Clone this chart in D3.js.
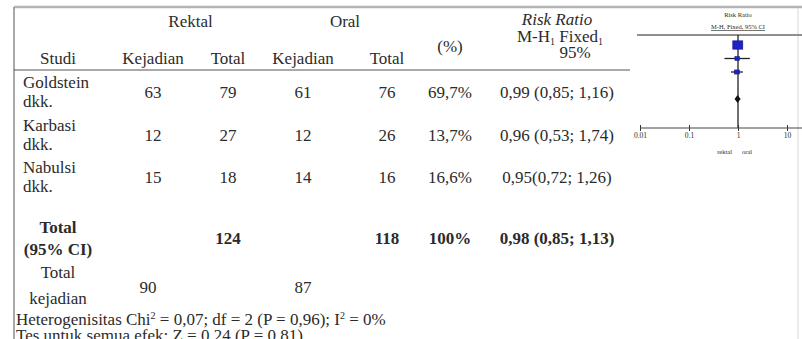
<!DOCTYPE html>
<html>
<head>
<meta charset="utf-8">
<script src="https://cdn.jsdelivr.net/npm/d3@7"></script>
<style>
  html, body { margin: 0; padding: 0; background: #fff; }
  svg { display: block; }
  text { font-family: "Liberation Serif", "DejaVu Serif", serif; fill: #2b2b2b; }
</style>
</head>
<body>
<svg id="chart" width="802" height="339"></svg>
<script>
// ---- data ----
const studyNames   = ["Goldstein", "Karbasi", "Nabulsi"];
const rektalEvents = [63, 12, 15];
const rektalTotal  = [79, 27, 18];
const oralEvents   = [61, 12, 14];
const oralTotal    = [76, 26, 16];
const weights      = [69.7, 13.7, 16.6];
const riskRatio    = [0.99, 0.96, 0.95];
const ciLower      = [0.85, 0.53, 0.72];
const ciUpper      = [1.16, 1.74, 1.26];
const labelGap     = [" ", " ", ""];
const pooled       = { rektalTotal: 124, oralTotal: 118, weight: 100, rr: 0.98, lo: 0.85, hi: 1.13 };
const totalEvents  = { rektal: 90, oral: 87 };
const heterogeneity = { chi2: 0.07, df: 2, p: 0.96, i2: 0 };
const overallTest  = { z: 0.24, p: 0.81 };
const axisTicks    = [0.01, 0.1, 1, 10];
const axisTickLabels = ["0.01", "0.1", "1", "10"];

// ---- helpers ----
const comma = (v, d) => d3.format("." + d + "f")(v).replace(".", ",");
const pct = v => (Number.isInteger(v) ? String(v) : comma(v, 1)) + "%";
const rrLabel = (r, lo, hi, gap) => `${comma(r, 2)}${gap}(${comma(lo, 2)}; ${comma(hi, 2)})`;

const svg = d3.select("#chart");
const FS = 17;

// column centres of the table
const col = { study: 58, rEv: 153, rTot: 228, oEv: 303, oTot: 387, pct: 450, rr: 557 };

function txt(x, y, s, opts = {}) {
  return svg.append("text")
    .attr("x", x).attr("y", y)
    .attr("text-anchor", opts.anchor || "middle")
    .style("font-size", (opts.size || FS) + "px")
    .style("font-weight", opts.bold ? "bold" : null)
    .style("font-style", opts.italic ? "italic" : null)
    .text(s);
}

// ---- frame ----
svg.append("line").attr("x1", 14).attr("x2", 802).attr("y1", 7).attr("y2", 7)
  .attr("stroke", "#b4b4b4").attr("stroke-width", 2.5);
svg.append("line").attr("x1", 14).attr("x2", 14).attr("y1", 7).attr("y2", 339)
  .attr("stroke", "#8c8c8c").attr("stroke-width", 1.5);
svg.append("line").attr("x1", 798).attr("x2", 798).attr("y1", 8).attr("y2", 339)
  .attr("stroke", "#e4e4e4").attr("stroke-width", 1.5);
svg.append("line").attr("x1", 14).attr("x2", 630).attr("y1", 70).attr("y2", 70)
  .attr("stroke", "#555").attr("stroke-width", 1.2);

// ---- header ----
txt((col.rEv + col.rTot) / 2, 27, "Rektal");
txt((col.oEv + col.oTot) / 2, 27, "Oral");
txt(col.rr, 25, "Risk Ratio", { italic: true });
const mh = txt(col.rr + 3, 42, "M-H");
mh.append("tspan").attr("dy", 3).style("font-size", "10px").text("1");
mh.append("tspan").attr("dy", -3).text(" Fixed");
mh.append("tspan").attr("dy", 3).style("font-size", "10px").text("1");
txt(col.rr + 18, 58, "95%");
txt(col.study, 64, "Studi");
txt(col.rEv, 64, "Kejadian");
txt(col.rTot, 64, "Total");
txt(col.oEv, 64, "Kejadian");
txt(col.oTot, 64, "Total");
txt(col.pct, 52, "(%)");

// ---- study rows ----
const rowTop = 88, rowStep = 42.5;
studyNames.forEach((name, i) => {
  const y = rowTop + i * rowStep;
  txt(23, y, name, { anchor: "start" });
  txt(23, y + 19, "dkk.", { anchor: "start" });
  const yv = y + 10;
  txt(col.rEv, yv, rektalEvents[i]);
  txt(col.rTot, yv, rektalTotal[i]);
  txt(col.oEv, yv, oralEvents[i]);
  txt(col.oTot, yv, oralTotal[i]);
  txt(col.pct, yv, pct(weights[i]));
  txt(col.rr, yv, rrLabel(riskRatio[i], ciLower[i], ciUpper[i], labelGap[i]));
});

// ---- pooled rows ----
txt(col.study, 233, "Total", { bold: true });
txt(col.study, 255, "(95% CI)", { bold: true });
txt(col.rTot, 244, pooled.rektalTotal, { bold: true });
txt(col.oTot, 244, pooled.oralTotal, { bold: true });
txt(col.pct, 244, pct(pooled.weight), { bold: true });
txt(col.rr, 244, rrLabel(pooled.rr, pooled.lo, pooled.hi, " "), { bold: true });

txt(col.study, 278, "Total");
txt(col.study, 304, "kejadian");
txt(col.rEv - 5, 293, totalEvents.rektal);
txt(col.oEv, 293, totalEvents.oral);

const het = txt(16, 325, "Heterogenisitas Chi", { anchor: "start" });
het.append("tspan").attr("dy", -6).style("font-size", "10px").text("2");
het.append("tspan").attr("dy", 6)
  .text(` = ${comma(heterogeneity.chi2, 2)}; df = ${heterogeneity.df} (P = ${comma(heterogeneity.p, 2)}); I`);
het.append("tspan").attr("dy", -6).style("font-size", "10px").text("2");
het.append("tspan").attr("dy", 6).text(` = ${heterogeneity.i2}%`);
txt(16, 341, `Tes untuk semua efek: Z = ${comma(overallTest.z, 2)} (P = ${comma(overallTest.p, 2)})`, { anchor: "start" });

// ---- forest plot ----
const x = d3.scaleLog().domain([0.01, 10]).range([640, 787]);
const y = d3.scaleLinear().domain([0, 4]).range([45, 99]);
const axisY = 128;

const fp = svg.append("g");
fp.append("text").attr("x", 738).attr("y", 17).attr("text-anchor", "middle")
  .style("font-size", "6.5px").text("Risk Ratio");
fp.append("text").attr("x", 738).attr("y", 29).attr("text-anchor", "middle")
  .style("font-size", "6.5px").style("text-decoration", "underline").text("M-H, Fixed, 95% CI");
fp.append("line").attr("x1", 637).attr("x2", 802).attr("y1", 35).attr("y2", 35)
  .attr("stroke", "#8f8f8f").attr("stroke-width", 2);

// line of no effect
fp.append("line").attr("x1", x(1)).attr("x2", x(1)).attr("y1", 35).attr("y2", axisY)
  .attr("stroke", "#222").attr("stroke-width", 1.3);

// study CIs and weighted squares
const side = d3.scaleSqrt().domain([0, 100]).range([0, 12]);
studyNames.forEach((name, i) => {
  fp.append("line").attr("x1", x(ciLower[i])).attr("x2", x(ciUpper[i]))
    .attr("y1", y(i)).attr("y2", y(i)).attr("stroke", "#222").attr("stroke-width", 1.3);
  const s = side(weights[i]);
  fp.append("rect").attr("x", x(riskRatio[i]) - s / 2).attr("y", y(i) - s / 2.4)
    .attr("width", s).attr("height", s / 1.2)
    .attr("fill", "#1f22c4").attr("stroke", "#14148a").attr("stroke-width", 0.6);
});

// pooled diamond
const dy = y(4), dh = 4;
fp.append("path")
  .attr("d", `M${x(pooled.lo)},${dy} L${x(pooled.rr)},${dy - dh} L${x(pooled.hi)},${dy} L${x(pooled.rr)},${dy + dh} Z`)
  .attr("fill", "#111");

// axis
const axis = d3.axisBottom(x).tickValues(axisTicks)
  .tickFormat((d, i) => axisTickLabels[i]).tickSize(-3).tickPadding(5);
const ag = fp.append("g").attr("transform", `translate(0,${axisY})`).call(axis);
ag.select(".domain").remove();
ag.selectAll(".tick line").attr("stroke", "#333").attr("y1", 3).attr("y2", -3);
ag.selectAll(".tick text").style("font-size", "7.5px").style("font-family", "Liberation Serif, serif").attr("fill", "#333");
fp.append("line").attr("x1", x(0.01)).attr("x2", 802).attr("y1", axisY).attr("y2", axisY)
  .attr("stroke", "#444").attr("stroke-width", 1);
fp.append("text").attr("x", x(1) - 6).attr("y", 154).attr("text-anchor", "end")
  .style("font-size", "6.5px").text("rektal");
fp.append("text").attr("x", x(1) + 4).attr("y", 154).attr("text-anchor", "start")
  .style("font-size", "6.5px").text("oral");
</script>
</body>
</html>
